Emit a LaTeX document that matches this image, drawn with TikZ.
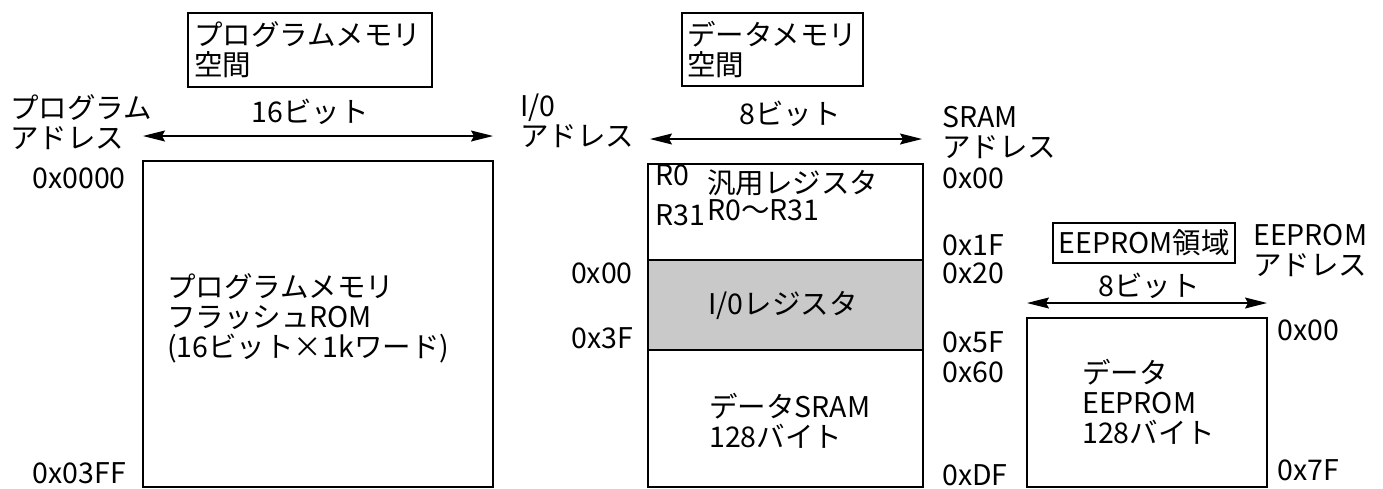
\documentclass[tikz,border=0pt]{standalone}
\usepackage{fontspec}
\setmainfont{Noto Sans CJK JP}
\usetikzlibrary{arrows.meta}
\begin{document}
\begin{tikzpicture}[x=1pt,y=-1pt,
  font=\fontsize{28.5}{30}\selectfont,
  box/.style={draw, line width=1.3pt, inner sep=0pt},
  lbl/.style={inner sep=0pt, align=left},
  dim/.style={{Stealth[length=22pt,width=11pt,inset=3pt]}-{Stealth[length=22pt,width=11pt,inset=3pt]}, line width=1.3pt}]
\useasboundingbox (0,0) rectangle (1383,488);

% ---------- program memory ----------
\node[box, minimum width=244pt, minimum height=74pt, text width=232pt] (progspace) at (310,50) {プログラムメモリ\\空間};
\node[lbl, anchor=west] (progaddr) at (10,122) {プログラム\\アドレス};
\node[lbl] (prog16) at (310,112) {16ビット};
\coordinate (pa1) at (143,136);
\coordinate (pa2) at (493,136);
\draw[dim] (pa1) -- (pa2);
\node[box, minimum width=350pt, minimum height=326pt] (prog) at (318,324) {};
\node[lbl, anchor=west] (progtxt) at (167,318) {プログラムメモリ\\フラッシュROM\\(16ビット×1kワード)};
\node[lbl, anchor=east] (p0) at (126,178) {0x0000};
\node[lbl, anchor=east] (p1) at (126,473) {0x03FF};

% ---------- data memory ----------
\node[box, minimum width=181pt, minimum height=73pt, text width=171pt] (dataspace) at (772.5,49.5) {データメモリ\\空間};
\node[lbl, anchor=west] (ioaddr) at (520,121) {I/0\\アドレス};
\node[lbl] (data8) at (790,114) {8ビット};
\coordinate (da1) at (650,139);
\coordinate (da2) at (922,139);
\draw[dim] (da1) -- (da2);
\node[box, minimum width=275pt, minimum height=323pt] (data) at (785.5,325.5) {};
\node[box, fill=black!21, minimum width=275pt, minimum height=90pt] (ioreg) at (785.5,305) {};
\node[lbl] (iotxt) at (783,305) {I/0レジスタ};
\node[lbl, anchor=west] (r0) at (655,175) {R0};
\node[lbl, anchor=west] (r31) at (655,215) {R31};
\node[lbl, anchor=west] (gpr) at (707,183) {汎用レジスタ};
\node[lbl, anchor=west] (gprr) at (707,210) {R0〜R31};
\node[lbl, anchor=west] (sramtxt) at (709,421) {データSRAM\\128バイト};
\node[lbl, anchor=east] (io0) at (633,273) {0x00};
\node[lbl, anchor=east] (io1) at (633,338) {0x3F};
\node[lbl, anchor=west] (sramaddr) at (942,132) {SRAM\\アドレス};
\node[lbl, anchor=west] (s00) at (942,178) {0x00};
\node[lbl, anchor=west] (s1f) at (942,245) {0x1F};
\node[lbl, anchor=west] (s20) at (942,273) {0x20};
\node[lbl, anchor=west] (s5f) at (942,342) {0x5F};
\node[lbl, anchor=west] (s60) at (942,372) {0x60};
\node[lbl, anchor=west] (sdf) at (942,475) {0xDF};

% ---------- EEPROM ----------
\node[box, minimum width=182pt, minimum height=40pt] (eespace) at (1144,243) {EEPROM領域};
\node[lbl, anchor=west] (eeaddr) at (1253,250) {EEPROM\\アドレス};
\node[lbl] (ee8) at (1149,286) {8ビット};
\coordinate (ea1) at (1027,303);
\coordinate (ea2) at (1267,303);
\draw[dim] (ea1) -- (ea2);
\node[box, minimum width=240pt, minimum height=169pt] (ee) at (1147,402.5) {};
\node[lbl, anchor=west] (eetxt) at (1082,402) {データ\\EEPROM\\128バイト};
\node[lbl, anchor=west] (e00) at (1277,330) {0x00};
\node[lbl, anchor=west] (e7f) at (1277,470) {0x7F};
\end{tikzpicture}
\end{document}
